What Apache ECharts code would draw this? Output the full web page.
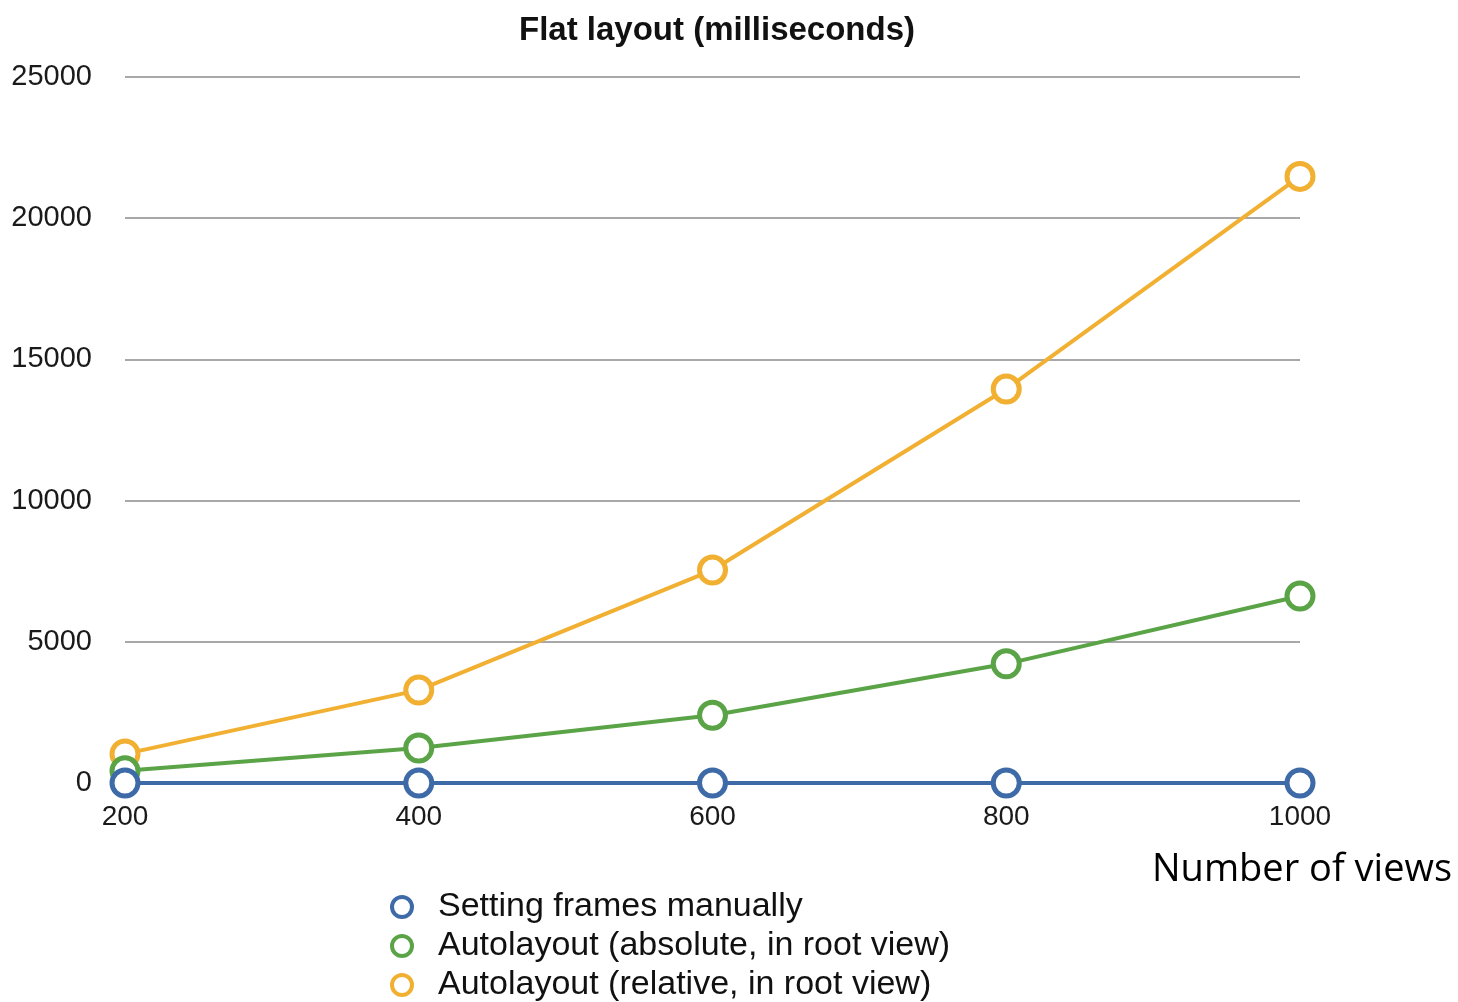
<!DOCTYPE html>
<html>
<head>
<meta charset="utf-8">
<script src="https://cdn.jsdelivr.net/npm/echarts@6/dist/echarts.min.js"></script>
<style>
  html, body { margin: 0; padding: 0; background: #fff; }
  #chart { width: 1458px; height: 1002px; }
</style>
</head>
<body>
<div id="chart"></div>
<script>
// Number of views on the x axis
const viewCounts = [200, 400, 600, 800, 1000];
// Layout time in milliseconds for each approach
const framesManual = [0, 0, 0, 0, 0];
const autolayoutAbsolute = [430, 1240, 2400, 4220, 6620];
const autolayoutRelative = [1030, 3290, 7540, 13950, 21480];
const yTicks = [0, 5000, 10000, 15000, 20000, 25000];

const seriesNames = [
  'Setting frames manually',
  'Autolayout (absolute, in root view)',
  'Autolayout (relative, in root view)'
];
const seriesColors = ['#3e6ba8', '#5aa447', '#f1b032'];
const seriesData = [framesManual, autolayoutAbsolute, autolayoutRelative];

const labelFont = '"Liberation Sans", Arial, Helvetica, sans-serif';

const chart = echarts.init(document.getElementById('chart'));
chart.setOption({
  backgroundColor: '#ffffff',
  animation: false,
  title: {
    text: 'Flat layout (milliseconds)',
    left: 712,
    top: 9,
    textAlign: 'center',
    textStyle: { fontFamily: labelFont, fontWeight: 'bold', fontSize: 33, color: '#111' }
  },
  grid: { left: 125, right: 158, top: 77, bottom: 219 },
  xAxis: {
    type: 'value',
    min: 200,
    max: 1000,
    interval: 200,
    name: 'Number of views',
    nameLocation: 'end',
    nameGap: 0,
    nameTextStyle: {
      fontFamily: '"Open Sans", "Noto Sans", sans-serif',
      fontSize: 38,
      color: '#000',
      align: 'center',
      verticalAlign: 'top',
      padding: [68, 0, 0, 4]
    },
    axisLine: { show: false },
    axisTick: { show: false },
    splitLine: { show: false },
    axisLabel: {
      margin: 20,
      fontFamily: labelFont,
      fontSize: 28,
      color: '#1a1a1a',
      formatter: v => viewCounts.includes(v) ? String(v) : ''
    }
  },
  yAxis: {
    type: 'value',
    min: yTicks[0],
    max: yTicks[yTicks.length - 1],
    interval: yTicks[1] - yTicks[0],
    axisLine: { show: false },
    axisTick: { show: false },
    splitLine: { lineStyle: { color: '#a8a8a8', width: 2 } },
    axisLabel: {
      margin: 33,
      fontFamily: labelFont,
      fontSize: 29,
      color: '#1a1a1a',
      formatter: v => String(v)
    }
  },
  legend: {
    orient: 'vertical',
    left: 385,
    top: 885,
    height: 120,
    itemGap: 5,
    itemWidth: 20,
    itemHeight: 20,
    icon: 'circle',
    textStyle: { fontFamily: labelFont, fontSize: 34, lineHeight: 34, color: '#111', padding: [0, 0, 0, 21] },
    data: seriesNames.map((n, i) => ({
      name: n,
      itemStyle: { color: '#ffffff', borderColor: seriesColors[i], borderWidth: 4 }
    }))
  },
  series: seriesData.map((vals, i) => ({
    name: seriesNames[i],
    type: 'line',
    data: viewCounts.map((x, j) => [x, vals[j]]),
    z: 10 - i,
    symbol: 'circle',
    symbolSize: 26,
    color: seriesColors[i],
    lineStyle: { width: 4, color: seriesColors[i] },
    itemStyle: { color: '#ffffff', borderColor: seriesColors[i], borderWidth: 5 }
  }))
});
</script>
</body>
</html>
